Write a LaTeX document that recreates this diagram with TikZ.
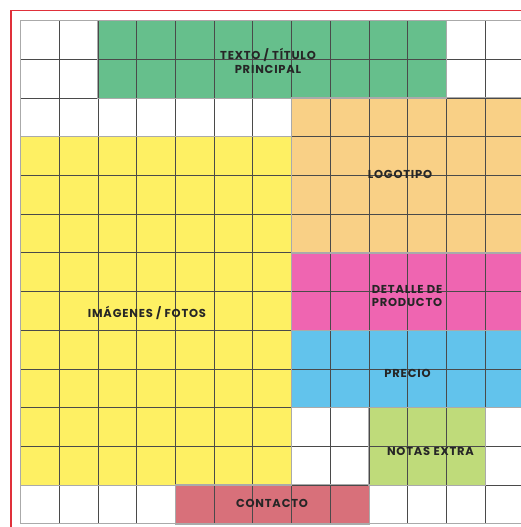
\documentclass[tikz,border=0pt]{standalone}
\usepackage{fontspec}
\setmainfont{Poppins}[LetterSpace=7]
\definecolor{cgreen}{HTML}{66BF8C}
\definecolor{corange}{HTML}{F9D086}
\definecolor{cyellow}{HTML}{FEF063}
\definecolor{cpink}{HTML}{EF65B1}
\definecolor{cblue}{HTML}{62C3EC}
\definecolor{clime}{HTML}{BFDB7A}
\definecolor{cred}{HTML}{D8707A}
\definecolor{cframe}{HTML}{E0303A}
\definecolor{cgrid}{HTML}{4A4A4A}
\definecolor{cedge}{HTML}{AAAAAA}
\tikzset{
  block/.style={draw=none, inner sep=0pt, anchor=north west},
  gridline/.style={draw=cgrid, line width=0.6pt},
  edge/.style={draw=cedge, line width=1.1pt},
  lbl/.style={font=\bfseries\fontsize{11.5}{13.5}\selectfont, text=black!85, align=center, inner sep=0pt}
}
\begin{document}
\begin{tikzpicture}[x=1pt,y=-1pt]
\useasboundingbox (0,0) rectangle (521,527);
\fill[white] (0,0) rectangle (521,527);
% blocks
\node[block, fill=cgreen, minimum width=348.3pt, minimum height=77.4pt] (green) at (97.9,20.5) {};
\node[block, fill=corange, minimum width=232.2pt, minimum height=154.8pt] (orange) at (291.4,97.9) {};
\node[block, fill=cyellow, minimum width=270.9pt, minimum height=348.3pt] (yellow) at (20.5,136.6) {};
\node[block, fill=cpink, minimum width=232.2pt, minimum height=77.4pt] (pink) at (291.4,252.7) {};
\node[block, fill=cblue, minimum width=232.2pt, minimum height=77.4pt] (blue) at (291.4,330.1) {};
\node[block, fill=clime, minimum width=116.1pt, minimum height=77.4pt] (lime) at (368.8,407.5) {};
\node[block, fill=cred, minimum width=193.5pt, minimum height=38.7pt] (red) at (175.3,484.9) {};
% grid
\foreach \k in {1,...,12} {
  \draw[gridline] ({20.5+38.7*\k},20.5) -- ({20.5+38.7*\k},523.6);
  \draw[gridline] (20.5,{20.5+38.7*\k}) -- (523.6,{20.5+38.7*\k});
}
% block outlines
\foreach \b in {green,orange,yellow,pink,blue,lime,red}
  \draw[edge] (\b.north west) rectangle (\b.south east);
\draw[edge] (20.5,20.5) rectangle (523.6,523.6);
% frame
\draw[cframe, line width=1.2pt] (11,10.5) rectangle (535,540);
% labels
\node[lbl] (t1) at (268,61) {TEXTO / TÍTULO\\PRINCIPAL};
\node[lbl] (t2) at (400,174) {LOGOTIPO};
\node[lbl] (t3) at (147,313) {IMÁGENES / FOTOS};
\node[lbl] (t4) at (407,296) {DETALLE DE\\PRODUCTO};
\node[lbl] (t5) at (407.5,373) {PRECIO};
\node[lbl] (t6) at (430.5,451) {NOTAS EXTRA};
\node[lbl] (t7) at (272,503) {CONTACTO};
\end{tikzpicture}
\end{document}
